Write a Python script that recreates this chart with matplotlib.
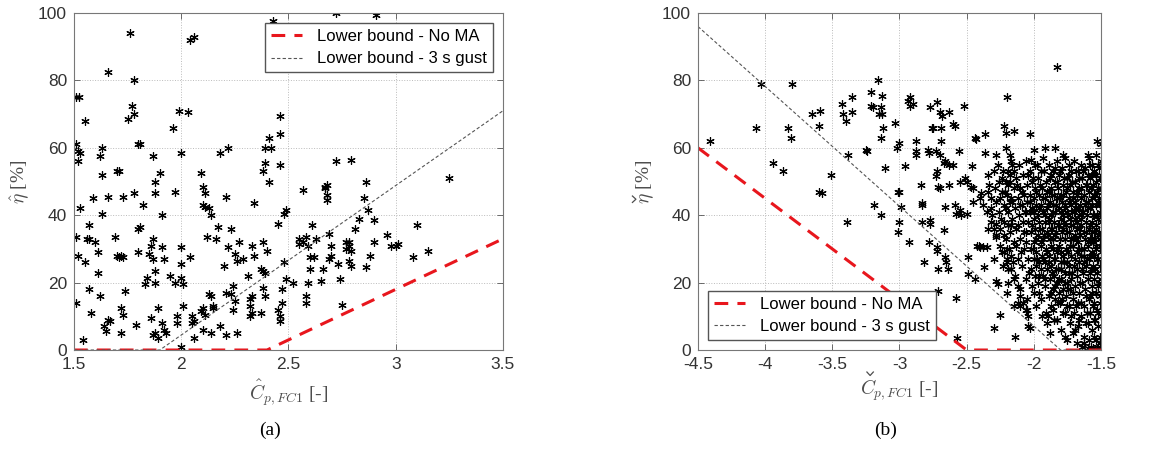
import numpy as np
import matplotlib
matplotlib.use('Agg')
import matplotlib.pyplot as plt
from matplotlib.lines import Line2D
from matplotlib.transforms import IdentityTransform

plt.rcParams['font.family'] = ['Liberation Sans', 'DejaVu Sans']
plt.rcParams['mathtext.fontset'] = 'cm'

# ---------------- panel (a) data ----------------
a_pts = [
    (1.51, 75), (1.525, 75), (1.55, 68), (1.51, 61), (1.52, 59), (1.53, 58.5), (1.52, 56), (1.53, 42),
    (1.51, 33.5), (1.52, 28), (1.55, 26), (1.51, 14), (1.54, 3), (1.56, 33), (1.57, 33), (1.57, 37),
    (1.57, 18), (1.58, 11), (1.59, 45), (1.6, 32), (1.61, 29), (1.61, 23), (1.62, 16), (1.62, 57.5),
    (1.63, 60), (1.63, 52), (1.63, 40.5), (1.64, 7), (1.65, 5.5), (1.66, 9), (1.67, 8.5), (1.66, 45.5),
    (1.66, 82.5), (1.69, 33.5), (1.70, 53), (1.71, 53), (1.70, 28), (1.71, 27.5), (1.72, 28), (1.73, 27.5),
    (1.72, 12.5), (1.73, 10.5), (1.72, 5), (1.74, 17.5), (1.73, 45.5), (1.75, 68.5), (1.76, 94), (1.77, 72.5),
    (1.78, 80), (1.78, 70), (1.78, 46.5), (1.79, 7.5), (1.80, 61), (1.81, 61), (1.80, 36), (1.81, 36.5),
    (1.80, 29), (1.82, 43), (1.83, 19.5), (1.84, 21.5), (1.85, 28.5), (1.86, 31), (1.86, 9.5), (1.87, 33),
    (1.87, 57.5), (1.88, 50), (1.88, 46.5), (1.87, 27), (1.88, 23.5), (1.88, 20), (1.87, 4.5), (1.89, 3.5),
    (1.88, 5), (1.89, 12.5), (1.9, 52.5), (1.91, 40), (1.91, 30.5), (1.92, 27), (1.91, 8), (1.92, 6),
    (1.93, 5), (1.96, 66), (1.95, 22), (1.97, 47), (1.97, 20), (1.99, 71), (1.98, 10), (1.98, 8),
    (2.0, 58.5), (2.0, 30.5), (2.0, 25.5), (2.0, 21.5), (2.01, 19.5), (2.01, 13), (2.0, 1), (2.03, 70.5),
    (2.04, 27.5), (2.05, 10), (2.05, 8), (2.06, 8.5), (2.06, 3.5), (2.04, 92), (2.06, 93), (2.09, 52.5),
    (2.1, 48.5), (2.11, 46.5), (2.1, 43), (2.11, 42.5), (2.13, 42), (2.14, 40), (2.09, 11.5), (2.1, 12.5),
    (2.11, 10.5), (2.1, 6), (2.12, 33.5), (2.13, 16.5), (2.14, 16), (2.15, 13), (2.15, 12.5), (2.14, 5),
    (2.16, 33), (2.17, 36.5), (2.18, 58.5), (2.18, 7), (2.2, 25), (2.21, 45.5), (2.22, 60), (2.21, 17),
    (2.21, 4.5), (2.22, 30.5), (2.23, 36), (2.23, 16.5), (2.24, 12), (2.24, 19), (2.25, 14.5), (2.25, 28.5),
    (2.26, 26.5), (2.26, 5), (2.27, 32), (2.29, 27), (2.31, 22), (2.32, 15), (2.32, 13), (2.32, 10),
    (2.33, 16), (2.33, 31), (2.34, 28), (2.34, 43.5), (2.33, 11), (2.37, 11), (2.37, 24), (2.38, 32),
    (2.38, 23.5), (2.38, 18.5), (2.39, 23), (2.39, 16), (2.38, 53), (2.39, 60), (2.39, 55.5), (2.41, 63),
    (2.42, 60), (2.41, 50), (2.4, 29.5), (2.43, 97.5), (2.45, 37.5), (2.45, 12), (2.46, 10), (2.46, 8.5),
    (2.46, 55), (2.46, 64), (2.46, 69.5), (2.47, 18), (2.47, 14), (2.48, 26), (2.48, 40.5), (2.49, 41.5),
    (2.49, 21), (2.52, 20), (2.55, 33), (2.55, 31.5), (2.57, 32), (2.57, 47.5), (2.58, 33.5), (2.59, 31),
    (2.58, 16), (2.58, 14), (2.59, 20), (2.6, 24), (2.6, 27.5), (2.61, 37), (2.62, 27.5), (2.63, 33),
    (2.65, 20.5), (2.66, 24), (2.67, 48.5), (2.67, 48), (2.68, 49), (2.68, 44.5), (2.68, 46), (2.69, 34.5),
    (2.69, 27), (2.7, 28), (2.7, 31), (2.72, 56), (2.73, 25.5), (2.74, 21), (2.75, 13.5), (2.77, 32),
    (2.77, 30), (2.78, 32), (2.78, 31), (2.78, 26.5), (2.79, 25), (2.79, 29.5), (2.79, 56.5), (2.81, 36),
    (2.83, 39), (2.85, 45), (2.86, 50), (2.87, 41.5), (2.86, 24.5), (2.88, 28), (2.9, 38.5), (2.9, 32),
    (2.96, 34), (2.98, 31), (3.0, 31), (3.01, 31.5), (3.08, 27.5), (3.1, 37), (3.15, 29.5), (3.25, 51),
    (2.72, 100), (2.91, 99.5),
]
a_bound_noma_x = [1.5, 2.4, 3.5]
a_bound_noma_y = [0, 0, 33]
a_bound_gust_x = [1.5, 1.9, 3.5]
a_bound_gust_y = [0, 0, 71]

# ---------------- panel (b) data ----------------
b_sparse = [
    (-4.41, 62), (-4.07, 66), (-4.03, 79), (-3.94, 55.5), (-3.87, 53), (-3.83, 66), (-3.81, 63), (-3.8, 79),
    (-3.65, 70), (-3.6, 66.5), (-3.59, 71), (-3.6, 47), (-3.58, 46.5), (-3.51, 52), (-3.43, 73), (-3.42, 70),
    (-3.4, 68), (-3.39, 38), (-3.38, 58), (-3.35, 70.5), (-3.35, 75), (-3.25, 59.5), (-3.24, 59), (-3.21, 76.5),
    (-3.21, 72.5), (-3.2, 72), (-3.19, 43), (-3.16, 80), (-3.15, 70), (-3.14, 72), (-3.13, 75.5), (-3.13, 70),
    (-3.12, 66), (-3.14, 63), (-3.14, 40), (-3.11, 54), (-3.03, 67.5), (-3.02, 60), (-3.0, 61.5), (-3.01, 47),
    (-3.0, 47), (-3.0, 38), (-3.01, 35), (-2.99, 42.5), (-2.96, 54.5), (-2.94, 74), (-2.92, 75), (-2.92, 72.5),
    (-2.9, 73), (-2.93, 32), (-2.88, 62), (-2.88, 59), (-2.88, 58), (-2.84, 49), (-2.83, 43.5), (-2.83, 43),
    (-2.83, 38), (-2.82, 26), (-2.79, 59.5), (-2.78, 58.5), (-2.77, 72), (-2.76, 66), (-2.75, 66), (-2.78, 32),
    (-2.77, 38.5), (-2.77, 37.5), (-2.73, 59), (-2.73, 51.5), (-2.72, 53), (-2.71, 48.5), (-2.72, 73.5), (-2.7, 70.5),
    (-2.69, 66), (-2.69, 62), (-2.7, 58), (-2.7, 48), (-2.72, 30.5), (-2.72, 29.5), (-2.71, 24), (-2.71, 17.5),
    (-2.68, 69.5), (-2.67, 55.5), (-2.66, 56), (-2.66, 42.5), (-2.67, 35.5), (-2.66, 27.5), (-2.65, 26), (-2.64, 24),
    (-2.63, 70.5), (-2.63, 55), (-2.63, 49), (-2.6, 67), (-2.59, 66.5), (-2.6, 55), (-2.59, 43), (-2.58, 40.5),
    (-2.58, 15.5), (-2.57, 3.5), (-2.56, 59), (-2.55, 50), (-2.55, 41.5), (-2.54, 40), (-2.52, 72.5), (-2.51, 51),
    (-2.5, 50), (-2.5, 40.5), (-2.49, 27.5), (-2.49, 22.5), (-2.47, 48.5), (-2.46, 54.5), (-2.45, 44), (-2.44, 63),
    (-2.43, 62.5), (-2.44, 21), (-2.42, 31), (-2.41, 31), (-2.4, 30.5), (-2.38, 30.5), (-2.39, 46.5), (-2.37, 24.5),
    (-2.36, 64), (-2.36, 58.5), (-2.35, 30.5), (-2.34, 36), (-2.34, 47), (-2.32, 42), (-2.3, 27), (-2.3, 6.5),
    (-2.28, 58), (-2.28, 37.5), (-2.28, 33.5), (-2.28, 20.5), (-2.27, 19.5), (-2.25, 10.5), (-2.2, 75), (-2.22, 66.5),
    (-2.21, 64.5), (-2.21, 60), (-2.19, 53), (-2.17, 56), (-2.18, 58), (-2.18, 44), (-2.2, 30), (-2.19, 24),
    (-2.19, 20), (-2.2, 17), (-2.17, 37), (-2.15, 65), (-2.15, 13), (-2.14, 4), (-2.12, 14), (-2.1, 13),
    (-2.03, 64), (-2.02, 56.5), (-2.0, 59.5), (-2.04, 7), (-2.03, 6.5), (-2.05, 12), (-2.06, 41), (-2.06, 35),
    (-1.92, 60), (-1.83, 84), (-1.84, 60), (-1.78, 58), (-1.6, 58), (-1.53, 62), (-1.5, 61),
    (-2.45, 48), (-2.4, 45), (-2.38, 43), (-2.35, 41), (-2.32, 38), (-2.3, 36), (-2.28, 34), (-2.25, 31),
    (-2.22, 29), (-2.2, 26), (-2.17, 24), (-2.15, 21), (-2.12, 19), (-2.1, 16), (-2.08, 14), (-2.06, 12), (-2.04, 10),
]
b_dense = [
    (-2.34, 52), (-2.33, 49), (-2.32, 45), (-2.31, 40), (-2.3, 53), (-2.29, 48), (-2.28, 44), (-2.27, 55),
    (-2.26, 50), (-2.26, 41), (-2.25, 36), (-2.24, 47), (-2.24, 29), (-2.23, 53), (-2.23, 25), (-2.22, 43),
    (-2.22, 38), (-2.21, 50), (-2.21, 33), (-2.2, 46), (-2.2, 27),
    (-2.19, 41), (-2.19, 49), (-2.18, 35), (-2.18, 52), (-2.17, 45), (-2.17, 28), (-2.16, 39), (-2.16, 55),
    (-2.15, 48), (-2.15, 32), (-2.14, 42), (-2.14, 22), (-2.13, 51), (-2.13, 36), (-2.12, 45), (-2.12, 27),
    (-2.11, 40), (-2.11, 55), (-2.1, 48), (-2.1, 33), (-2.1, 18), (-2.09, 43), (-2.09, 25), (-2.08, 52),
    (-2.08, 38), (-2.07, 46), (-2.07, 30), (-2.06, 56), (-2.06, 21), (-2.05, 49), (-2.05, 44), (-2.05, 15),
    (-2.04, 38), (-2.04, 27),
    (-2.03, 53), (-2.03, 46), (-2.03, 41), (-2.02, 35), (-2.02, 30), (-2.02, 24), (-2.01, 50), (-2.01, 42),
    (-2.01, 19), (-2.0, 45), (-2.0, 39), (-2.0, 32), (-2.0, 27), (-1.99, 55), (-1.99, 48), (-1.99, 36),
    (-1.99, 22), (-1.98, 43), (-1.98, 29), (-1.98, 25), (-1.98, 13), (-1.97, 51), (-1.97, 40), (-1.97, 34),
    (-1.97, 20), (-1.96, 46), (-1.96, 38), (-1.96, 26), (-1.96, 17), (-1.95, 53), (-1.95, 43), (-1.95, 31),
    (-1.95, 24), (-1.94, 48), (-1.94, 36), (-1.94, 28), (-1.94, 10), (-1.93, 41), (-1.93, 33), (-1.93, 22),
    (-1.93, 57), (-1.92, 45), (-1.92, 38), (-1.92, 26), (-1.92, 19), (-1.91, 50), (-1.91, 30), (-1.91, 11),
    (-1.9, 42), (-1.9, 35), (-1.9, 24), (-1.9, 8),
    (-1.89, 55), (-1.89, 47), (-1.89, 39), (-1.89, 28), (-1.89, 16), (-1.88, 51), (-1.88, 44), (-1.88, 33),
    (-1.88, 21), (-1.88, 5), (-1.87, 48), (-1.87, 40), (-1.87, 36), (-1.87, 25), (-1.87, 13), (-1.86, 53),
    (-1.86, 43), (-1.86, 30), (-1.86, 18), (-1.85, 46), (-1.85, 38), (-1.85, 27), (-1.85, 22), (-1.85, 9),
    (-1.84, 50), (-1.84, 41), (-1.84, 34), (-1.84, 15), (-1.83, 56), (-1.83, 45), (-1.83, 29), (-1.83, 20),
    (-1.82, 48), (-1.82, 37), (-1.82, 24), (-1.82, 14), (-1.81, 52), (-1.81, 42), (-1.81, 31), (-1.81, 17),
    (-1.8, 46), (-1.8, 39), (-1.8, 26), (-1.8, 21), (-1.8, 6), (-1.79, 54), (-1.79, 44), (-1.79, 35),
    (-1.79, 15), (-1.78, 49), (-1.78, 40), (-1.78, 28), (-1.78, 18), (-1.77, 57), (-1.77, 43), (-1.77, 33),
    (-1.77, 23), (-1.77, 11), (-1.76, 47), (-1.76, 37), (-1.76, 30), (-1.76, 16), (-1.75, 51), (-1.75, 41),
    (-1.75, 26), (-1.75, 20), (-1.75, 3),
    (-1.74, 55), (-1.74, 45), (-1.74, 35), (-1.74, 23), (-1.74, 13), (-1.73, 49), (-1.73, 39), (-1.73, 31),
    (-1.73, 18), (-1.73, 8), (-1.72, 53), (-1.72, 43), (-1.72, 28), (-1.72, 21), (-1.71, 47), (-1.71, 37),
    (-1.71, 33), (-1.71, 15), (-1.71, 5), (-1.7, 56), (-1.7, 41), (-1.7, 25), (-1.7, 11), (-1.69, 50),
    (-1.69, 44), (-1.69, 34), (-1.69, 19), (-1.68, 47), (-1.68, 38), (-1.68, 29), (-1.68, 22), (-1.68, 2),
    (-1.67, 53), (-1.67, 42), (-1.67, 32), (-1.67, 14), (-1.67, 7), (-1.66, 48), (-1.66, 36), (-1.66, 26),
    (-1.66, 17), (-1.65, 55), (-1.65, 45), (-1.65, 39), (-1.65, 30), (-1.65, 10), (-1.64, 51), (-1.64, 41),
    (-1.64, 24), (-1.64, 20), (-1.64, 1), (-1.63, 46), (-1.63, 35), (-1.63, 28), (-1.63, 13), (-1.63, 4),
    (-1.62, 54), (-1.62, 43), (-1.62, 33), (-1.62, 18), (-1.61, 49), (-1.61, 38), (-1.61, 25), (-1.61, 8),
    (-1.6, 52), (-1.6, 44), (-1.6, 31), (-1.6, 21), (-1.6, 0.5),
    (-1.59, 57), (-1.59, 47), (-1.59, 36), (-1.59, 27), (-1.59, 15), (-1.59, 3), (-1.58, 51), (-1.58, 42),
    (-1.58, 33), (-1.58, 23), (-1.58, 11), (-1.57, 55), (-1.57, 45), (-1.57, 38), (-1.57, 29), (-1.57, 19),
    (-1.57, 6), (-1.56, 49), (-1.56, 40), (-1.56, 32), (-1.56, 25), (-1.56, 13), (-1.56, 0.5), (-1.55, 53),
    (-1.55, 46), (-1.55, 35), (-1.55, 21), (-1.55, 9), (-1.54, 58), (-1.54, 50), (-1.54, 43), (-1.54, 37),
    (-1.54, 30), (-1.54, 17), (-1.54, 3), (-1.53, 47), (-1.53, 40), (-1.53, 27), (-1.53, 23), (-1.53, 12),
    (-1.52, 55), (-1.52, 44), (-1.52, 34), (-1.52, 19), (-1.52, 7), (-1.52, 1), (-1.51, 51), (-1.51, 41),
    (-1.51, 31), (-1.51, 25), (-1.51, 14), (-1.51, 4), (-1.5, 48), (-1.5, 38), (-1.5, 29), (-1.5, 21),
    (-1.5, 10), (-1.5, 56),
]
b_dense2 = [
    (-2.255, 45), (-2.245, 39), (-2.235, 51), (-2.225, 34), (-2.215, 47), (-2.205, 42), (-2.195, 37), (-2.185, 30),
    (-2.175, 50), (-2.165, 44), (-2.155, 26), (-2.145, 53), (-2.135, 31), (-2.125, 49), (-2.115, 37), (-2.105, 43),
    (-2.095, 29), (-2.085, 47), (-2.075, 35), (-2.065, 41), (-2.055, 32), (-2.045, 52), (-2.035, 23), (-2.025, 44),
    (-2.015, 37), (-2.005, 30), (-2.005, 51), (-1.995, 41), (-1.995, 17), (-1.985, 33), (-1.985, 47), (-1.975, 27),
    (-1.975, 55), (-1.965, 42), (-1.965, 22), (-1.955, 36), (-1.955, 49), (-1.945, 32), (-1.945, 15), (-1.935, 45),
    (-1.935, 27), (-1.925, 53), (-1.925, 34), (-1.915, 40), (-1.915, 21), (-1.905, 47), (-1.905, 29), (-1.895, 43),
    (-1.895, 34), (-1.895, 10), (-1.885, 38), (-1.885, 26), (-1.875, 52), (-1.875, 31), (-1.875, 17), (-1.865, 46),
    (-1.865, 36), (-1.865, 23), (-1.855, 41), (-1.855, 33), (-1.855, 12), (-1.845, 54), (-1.845, 27), (-1.845, 19),
    (-1.835, 43), (-1.835, 35), (-1.835, 24), (-1.825, 50), (-1.825, 30), (-1.825, 9), (-1.815, 45), (-1.815, 37),
    (-1.815, 21), (-1.805, 53), (-1.805, 33), (-1.805, 14), (-1.795, 41), (-1.795, 29), (-1.795, 24), (-1.785, 46),
    (-1.785, 36), (-1.785, 11), (-1.775, 51), (-1.775, 38), (-1.775, 26), (-1.765, 42), (-1.765, 33), (-1.765, 20),
    (-1.765, 4), (-1.755, 48), (-1.755, 35), (-1.755, 13), (-1.745, 40), (-1.745, 29), (-1.745, 18), (-1.735, 52),
    (-1.735, 44), (-1.735, 25), (-1.725, 37), (-1.725, 33), (-1.725, 10), (-1.715, 50), (-1.715, 41), (-1.715, 23),
    (-1.705, 45), (-1.705, 31), (-1.705, 17), (-1.695, 39), (-1.695, 27), (-1.695, 6), (-1.685, 53), (-1.685, 42),
    (-1.685, 33), (-1.685, 13), (-1.675, 46), (-1.675, 36), (-1.675, 24), (-1.665, 51), (-1.665, 40), (-1.665, 30),
    (-1.665, 9), (-1.655, 43), (-1.655, 34), (-1.655, 20), (-1.645, 48), (-1.645, 37), (-1.645, 28), (-1.645, 14),
    (-1.635, 53), (-1.635, 41), (-1.635, 23), (-1.625, 46), (-1.625, 30), (-1.625, 26), (-1.625, 2), (-1.615, 44),
    (-1.615, 35), (-1.615, 16), (-1.605, 49), (-1.605, 40), (-1.605, 27), (-1.605, 11), (-1.595, 42), (-1.595, 32),
    (-1.595, 21), (-1.595, 8), (-1.585, 55), (-1.585, 37), (-1.585, 28), (-1.585, 16), (-1.575, 48), (-1.575, 33),
    (-1.575, 24), (-1.575, 1), (-1.565, 52), (-1.565, 43), (-1.565, 35), (-1.565, 17), (-1.555, 40), (-1.555, 28),
    (-1.555, 14), (-1.555, 4), (-1.545, 46), (-1.545, 33), (-1.545, 24), (-1.545, 9), (-1.535, 52), (-1.535, 36),
    (-1.535, 31), (-1.535, 17), (-1.525, 48), (-1.525, 39), (-1.525, 27), (-1.525, 11), (-1.515, 54), (-1.515, 45),
    (-1.515, 35), (-1.515, 20), (-1.505, 43), (-1.505, 33), (-1.505, 16), (-1.505, 2),
]
b_bound_noma_x = [-4.5, -2.5, -1.5]
b_bound_noma_y = [60, 0, 0]
b_bound_gust_x = [-4.5, -1.8, -1.5]
b_bound_gust_y = [96, 0, 0]

a_xticks = [1.5, 2, 2.5, 3, 3.5]
b_xticks = [-4.5, -4, -3.5, -3, -2.5, -2, -1.5]
yticks = [0, 20, 40, 60, 80, 100]

TXT = '#333333'
LBL = '#4d4d4d'
ASTER = (6, 2, 0)

fig = plt.figure(figsize=(11.76, 4.57), dpi=100)
ax_a = fig.add_axes([0.0629, 0.2341, 0.3648, 0.7374])
ax_b = fig.add_axes([0.5935, 0.2341, 0.3427, 0.7374])


def style(ax, xticks, xlim):
    ax.set_xlim(xlim)
    ax.set_ylim(0, 100)
    ax.set_xticks(xticks)
    ax.set_xticklabels(['%g' % t for t in xticks])
    ax.set_yticks(yticks)
    ax.tick_params(direction='in', top=True, right=True, labelsize=12.5,
                   colors='#555555', labelcolor=TXT, length=4, width=0.6, pad=5)
    ax.grid(True, linestyle=':', color='#bbbbbb', linewidth=0.7)
    for s in ax.spines.values():
        s.set_color('#777777')
        s.set_linewidth(0.8)


def bounds(ax, xs1, ys1, xs2, ys2, loc):
    ax.plot(xs1, ys1, color='#e8161d', lw=2.2, dashes=(4.5, 3), label='Lower bound - No MA')
    ax.plot(xs2, ys2, color='#555555', lw=0.8, dashes=(3, 2), label='Lower bound - 3 s gust')
    ax.legend(loc=loc, fontsize=12, frameon=True, fancybox=False, edgecolor='#555555',
              handlelength=1.9, handletextpad=0.9, borderpad=0.35, labelspacing=0.45,
              borderaxespad=0.6, framealpha=1)


x, y = zip(*a_pts)
ax_a.plot(x, y, linestyle='none', marker=ASTER, ms=6, mew=0.85, color='black')
bounds(ax_a, a_bound_noma_x, a_bound_noma_y, a_bound_gust_x, a_bound_gust_y, 'upper right')
style(ax_a, a_xticks, (1.5, 3.5))
ax_a.set_xlabel(r'$\hat{C}_{p,FC1}$ [-]', fontsize=14, color=LBL, family='Liberation Serif')
ax_a.set_ylabel(r'$\hat{\eta}$ [%]', fontsize=14, color=LBL, family='Liberation Serif')

x, y = zip(*(b_sparse + b_dense + b_dense2))
ax_b.plot(x, y, linestyle='none', marker=ASTER, ms=6, mew=0.85, color='black')
bounds(ax_b, b_bound_noma_x, b_bound_noma_y, b_bound_gust_x, b_bound_gust_y, 'lower left')
style(ax_b, b_xticks, (-4.5, -1.5))
xl = ax_b.set_xlabel(r'$C_{p,FC1}$ [-]', fontsize=14, color=LBL, family='Liberation Serif')
yl = ax_b.set_ylabel(r'$\eta$ [%]', fontsize=14, color=LBL, family='Liberation Serif')

fig.text(0.23, 0.059, '(a)', ha='center', va='center', fontsize=14, family='Liberation Serif')
fig.text(0.753, 0.059, '(b)', ha='center', va='center', fontsize=14, family='Liberation Serif')

# caron accents (check) over C and eta, drawn as small strokes in pixel space
fig.canvas.draw()
rend = fig.canvas.get_renderer()
bx = xl.get_window_extent(rend)
cx = bx.x0 + 0.125 * bx.width
top = bx.y1
fig.add_artist(Line2D([cx - 3.2, cx, cx + 3.2], [top + 5.5, top + 2, top + 5.5],
                      transform=IdentityTransform(), color=LBL, lw=0.9))
by = yl.get_window_extent(rend)
cy = by.y0 + 0.1 * by.height
left = by.x0
fig.add_artist(Line2D([left - 2.5, left + 1, left - 2.5], [cy - 3.2, cy, cy + 3.2],
                      transform=IdentityTransform(), color=LBL, lw=0.9))

fig.savefig('out.png', dpi=100)
